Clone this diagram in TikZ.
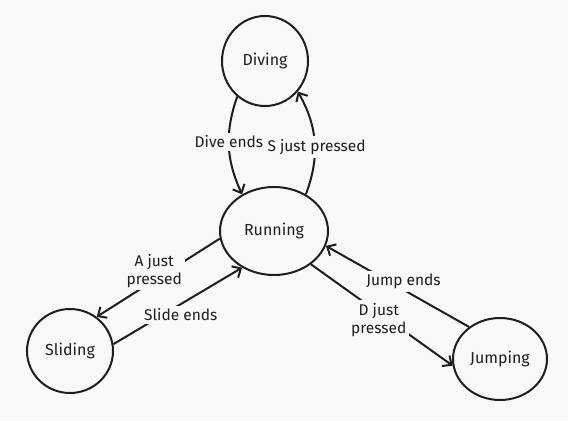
\documentclass[tikz,border=0pt]{standalone}
\usepackage{fontspec}
\setmainfont{Fira Sans}
\usetikzlibrary{shapes.geometric,arrows.meta}

\definecolor{paper}{RGB}{248,249,250}
\definecolor{ink}{RGB}{30,30,30}

\tikzset{
  state/.style={ellipse, draw=ink, line width=2pt, inner sep=0pt, text=ink,
    font=\fontsize{16}{18}\selectfont},
  lbl/.style={fill=paper, inner sep=3pt, align=center, text=ink,
    font=\fontsize{15.5}{18}\selectfont},
}

\begin{document}
\begin{tikzpicture}[x=1pt, y=-1pt, color=ink, line width=2pt,
    >={Straight Barb[length=7pt,width=13pt]}]
  \fill[paper] (0,0) rectangle (568,421);
  \useasboundingbox (0,0) rectangle (568,421);

  \node [state, minimum width=86pt, minimum height=90pt] (dive) at (265,61) {Diving};
  \node [state, minimum width=108pt, minimum height=88pt] (run) at (274,231) {Running};
  \node [state, minimum width=86pt, minimum height=84pt] (slide) at (70,351) {Sliding};
  \node [state, minimum width=94pt, minimum height=82pt] (jump) at (500,359) {Jumping};

  \draw[->] (dive.232) to[bend right=22] node [lbl, yshift=4pt] {Dive ends} (run.131);
  \draw[->] (run.49) to[bend right=25] node [lbl, xshift=2pt, yshift=-5pt] {S just pressed} (dive.317);
  \draw[->] (run.188) -- node [lbl, xshift=-4pt, yshift=7pt] {A just\\pressed} (slide.52);
  \draw[->] (slide.9) -- node [lbl, xshift=3pt, yshift=-9pt] {Slide ends} (run.229);
  \draw[->] (jump.134) -- node [lbl, xshift=6pt, yshift=5pt] {Jump ends} (run.344);
  \draw[->] (run.318) -- node [lbl, xshift=-3pt, yshift=-5pt] {D just\\pressed} (jump.188);
\end{tikzpicture}
\end{document}
